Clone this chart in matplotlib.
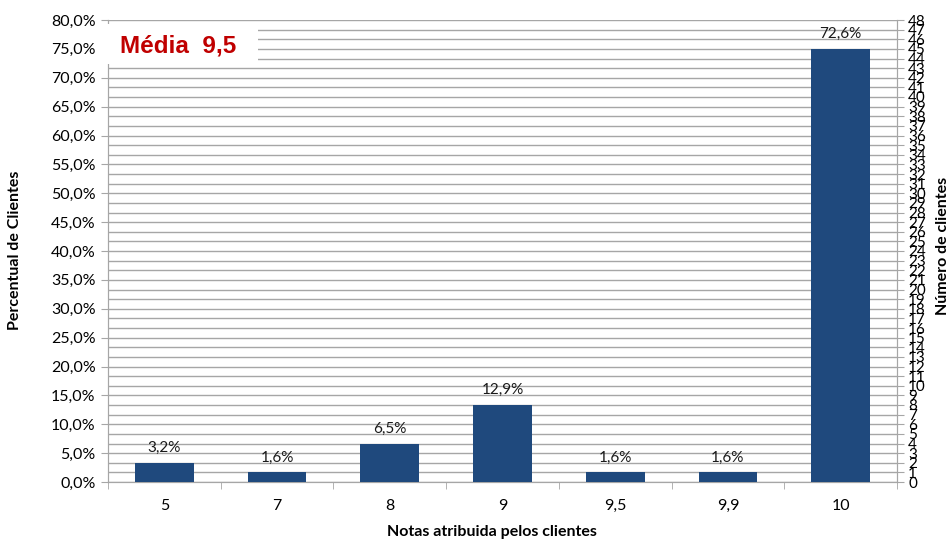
import matplotlib
matplotlib.use("Agg")
import matplotlib.pyplot as plt
from matplotlib.patches import Rectangle
from matplotlib.ticker import FixedLocator, FuncFormatter

# dados do grafico
notas = ["5", "7", "8", "9", "9,5", "9,9", "10"]
clientes = [2, 1, 4, 8, 1, 1, 45]
percentual = ["3,2%", "1,6%", "6,5%", "12,9%", "1,6%", "1,6%", "72,6%"]
ticks_pct = [0, 5, 10, 15, 20, 25, 30, 35, 40, 45, 50, 55, 60, 65, 70, 75, 80]
ticks_cli = list(range(0, 49))

plt.rcParams['font.family'] = ['Lato', 'DejaVu Sans']

W, H = 952, 546
fig = plt.figure(figsize=(W / 100, H / 100), dpi=100)
esq, dir_, topo, base = 108, 897, 20, 482
ax = fig.add_axes([esq / W, 1 - base / H, (dir_ - esq) / W, (base - topo) / H])
ax2 = ax.twinx()

cinza = "#A6A6A6"
azul = "#1F497D"

x = list(range(len(notas)))
ax2.bar(x, clientes, width=0.52, color=azul, zorder=3)
for xi, c, p in zip(x, clientes, percentual):
    ax2.text(xi, c + 0.8, p, ha="center", va="bottom", fontsize=11, color="#1a1a1a")

ax.set_xlim(-0.5, len(notas) - 0.5)
ax.set_ylim(0, 80)
ax2.set_ylim(0, 48)

ax.set_xticks(x)
ax.set_xticklabels(notas, fontsize=11.5)
ax.xaxis.set_minor_locator(FixedLocator([i - 0.5 for i in range(len(notas) + 1)]))
ax.tick_params(axis="x", which="major", length=0, pad=12)
ax.tick_params(axis="x", which="minor", length=5, color=cinza)

ax.set_yticks(ticks_pct)
ax.yaxis.set_major_formatter(FuncFormatter(lambda v, p: ("%.1f%%" % v).replace(".", ",")))
ax.tick_params(axis="y", length=5, color=cinza, labelsize=11.5, pad=4)

ax2.set_yticks(ticks_cli)
ax2.tick_params(axis="y", length=5, color=cinza, labelsize=11, pad=3)

ax2.yaxis.grid(True, color=cinza, linewidth=1, zorder=0)
ax2.set_axisbelow(True)

for a in (ax, ax2):
    for s in a.spines.values():
        s.set_color(cinza)
    a.spines["top"].set_visible(False)

# caixa com a media
fig.patches.append(Rectangle((100 / W, 1 - 64 / H), 158 / W, 40 / H,
                             transform=fig.transFigure, facecolor="white",
                             edgecolor="none", zorder=5))
fig.text(178 / W, 1 - 46 / H, "Média  9,5", ha="center", va="center",
         fontsize=17.5, fontweight="bold", color="#C00000",
         family=['Liberation Sans', 'DejaVu Sans'], zorder=6)

fig.text(492 / W, 1 - 532 / H, "Notas atribuida pelos clientes", ha="center",
         va="center", fontsize=11.5, fontweight="bold")
fig.text(15 / W, 1 - 250 / H, "Percentual de Clientes", ha="center", va="center",
         rotation=90, fontsize=11.5, fontweight="bold")
fig.text(943 / W, 1 - 246 / H, "Número de clientes", ha="center", va="center",
         rotation=90, fontsize=11.5, fontweight="bold")

fig.savefig("out.png", dpi=100)
